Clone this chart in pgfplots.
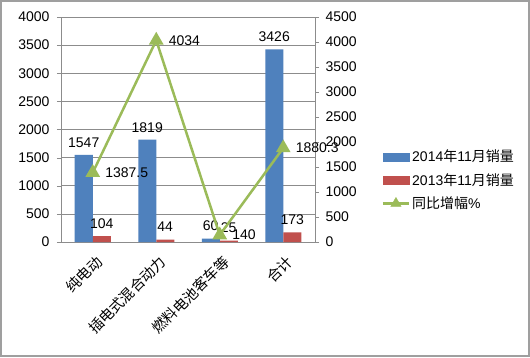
\documentclass[border=0pt]{standalone}
\usepackage{pgfplots}
\pgfplotsset{compat=1.18}
\usepackage{fontspec}
\setmainfont{Liberation Sans}
\newfontfamily\cjk{Noto Sans CJK SC}
\definecolor{cblue}{HTML}{4F81BD}
\definecolor{cred}{HTML}{C0504D}
\definecolor{cgreen}{HTML}{9BBB59}
\definecolor{gridc}{HTML}{8C8C8C}
\begin{document}
\begin{tikzpicture}[x=1pt,y=1pt]
\useasboundingbox (0,0) rectangle (530,357);
\fill[white] (0,0) rectangle (530,357);
\draw[gray!75, line width=1.5pt] (1,1) rectangle (529,356);
\begin{axis}[
  at={(61pt,115pt)}, anchor=south west,
  scale only axis, width=254pt, height=225pt,
  xmin=-0.5, xmax=3.5, ymin=0, ymax=4000,
  ytick={0,500,...,4000},
  xtick={0,1,2,3},
  xticklabels={纯电动,插电式混合动力,燃料电池客车等,合计},
  x tick label style={rotate=45, anchor=east, font=\cjk\fontsize{14.5}{14.5}\selectfont, yshift=-14pt, xshift=-1pt},
  major x tick style={draw=none},
  extra x ticks={-0.5,0.5,1.5,2.5,3.5},
  extra x tick labels={},
  extra x tick style={major tick length=5pt, tick align=outside, grid=none, tick style={draw=gridc}},
  axis x line*=bottom, axis y line*=left,
  axis line style={gridc},
  ymajorgrids, grid style={gridc, line width=0.6pt},
  y tick style={gridc}, tick align=outside, major tick length=4pt,
  y tick label style={font=\fontsize{14}{16}\selectfont, xshift=-4pt},
  /pgf/number format/assume math mode=true,
  /pgf/number format/1000 sep={},
  ybar=0pt, bar width=18pt,
  nodes near coords,
  point meta=explicit symbolic,
  every node near coord/.append style={font=\fontsize{14}{16}\selectfont, black, yshift=4pt},
  clip=false,
]
\addplot[fill=cblue, draw=none] table[meta=l]{
x y l
0 1547 1547
1 1819 1819
2 60 60
3 3426 3426
};
\addplot[fill=cred, draw=none] table[meta=l]{
x y l
0 104 104
1 44 44
2 25 25
3 173 173
};
\end{axis}
\begin{axis}[
  at={(61pt,115pt)}, anchor=south west,
  scale only axis, width=254pt, height=225pt,
  xmin=-0.5, xmax=3.5, ymin=0, ymax=4500,
  ytick={0,500,...,4500},
  axis x line=none, axis y line*=right,
  axis line style={gridc},
  y tick style={gridc}, tick align=outside, major tick length=4pt,
  y tick label style={font=\fontsize{14}{16}\selectfont, xshift=3pt},
  /pgf/number format/assume math mode=true,
  /pgf/number format/1000 sep={},
  clip=false,
  legend style={at={(1.25,0.275)}, anchor=west, draw=none, fill=none,
    font=\fontsize{14}{16}\selectfont, row sep=6pt, cells={anchor=west}},
]
\addlegendimage{legend image code/.code={\fill[cblue] (0pt,-4pt) rectangle (26pt,4pt);}}
\addlegendentry{2014{\cjk 年}11{\cjk 月销量}}
\addlegendimage{legend image code/.code={\fill[cred] (0pt,-4pt) rectangle (26pt,4pt);}}
\addlegendentry{2013{\cjk 年}11{\cjk 月销量}}
\addlegendimage{legend image code/.code={\draw[cgreen, line width=2.5pt] (0pt,0pt) -- (26pt,0pt); \fill[cgreen] (13pt,0pt) +(90:6pt) -- +(210:6pt) -- +(330:6pt) -- cycle;}}
\addlegendentry{{\cjk 同比增幅}\%}
\addplot[cgreen, line width=2.5pt, mark=triangle*, mark size=6pt, mark options={solid, fill=cgreen},
  nodes near coords, point meta=explicit symbolic,
  every node near coord/.style={anchor=west, xshift=8pt, black, font=\fontsize{14}{16}\selectfont},
  forget plot] table[meta=l]{
x y l
0 1387.5 1387.5
1 4034 4034
2 140 140
3 1880.3 1880.3
};
\end{axis}
\end{tikzpicture}
\end{document}
